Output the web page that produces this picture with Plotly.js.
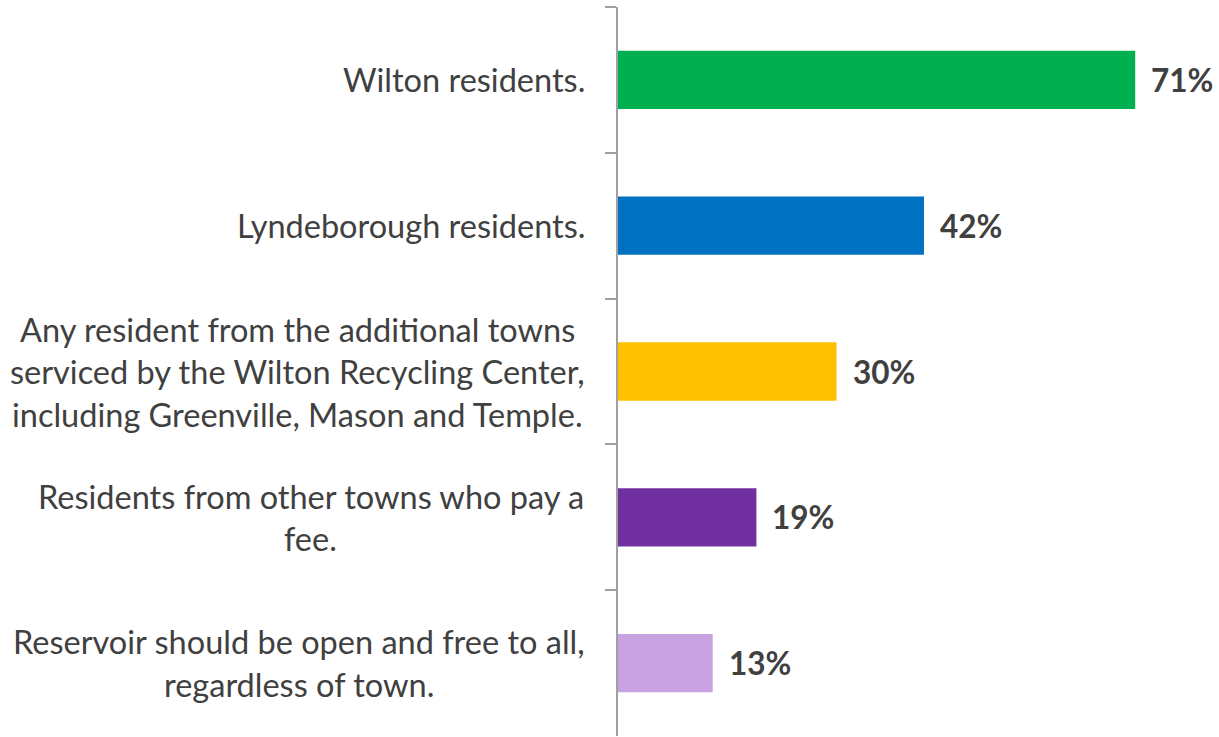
<!DOCTYPE html>
<html>
<head>
<meta charset="utf-8">
<script src="https://cdn.plot.ly/plotly-3.0.1.min.js"></script>
<style>html,body{margin:0;padding:0;background:#fff;}#chart{width:1219px;height:737px;}</style>
</head>
<body>
<div id="chart"></div>
<script>
const categories = [
  "Wilton residents.",
  "Lyndeborough residents.",
  "Any resident from the additional towns<br>serviced by the Wilton Recycling Center,<br>including Greenville, Mason and Temple.",
  "Residents from other towns who pay a<br>fee.",
  "Reservoir should be open and free to all,<br>regardless of town."
];
const values = [71, 42, 30, 19, 13];
const valueLabels = ["71%", "42%", "30%", "19%", "13%"];
const barColors = ["#00B050", "#0070C0", "#FFC000", "#7030A0", "#C9A3E1"];

const FONT = "Lato, 'Open Sans', sans-serif";
const TEXT_COLOR = "#404040";
const LABEL_SIZE = 32.5;
const VALUE_SIZE = 31.5;
const LINE_SPACING = 42.5;
const RIGHT_GAP = 33;

function build() {
  const canvas = document.createElement("canvas");
  const ctx = canvas.getContext("2d");
  ctx.font = LABEL_SIZE + "px Lato";

  const trace = {
    type: "bar",
    orientation: "h",
    x: values,
    y: categories,
    marker: {color: barColors},
    hoverinfo: "none"
  };

  const annotations = [];
  values.forEach((v, i) => {
    annotations.push({
      x: v, y: categories[i], xref: "x", yref: "y",
      text: "<b>" + valueLabels[i] + "</b>",
      showarrow: false, xanchor: "left", xshift: 14,
      font: {family: FONT, size: VALUE_SIZE, color: TEXT_COLOR}
    });
  });

  categories.forEach((cat) => {
    const lines = cat.split("<br>");
    const n = lines.length;
    const blockW = Math.max(...lines.map(l => ctx.measureText(l).width));
    lines.forEach((ln, j) => {
      annotations.push({
        xref: "paper", yref: "y", x: 0, y: cat,
        text: ln, showarrow: false,
        xanchor: "center",
        xshift: -RIGHT_GAP - blockW / 2,
        yshift: -(j - (n - 1) / 2) * LINE_SPACING,
        font: {family: FONT, size: LABEL_SIZE, color: TEXT_COLOR}
      });
    });
  });

  const layout = {
    width: 1219, height: 737,
    margin: {l: 618, r: 0, t: 7, b: 1},
    paper_bgcolor: "#fff", plot_bgcolor: "#fff",
    showlegend: false,
    bargap: 0.6,
    font: {family: FONT, color: TEXT_COLOR},
    xaxis: {range: [0, 82.5], visible: false, fixedrange: true},
    yaxis: {
      type: "category",
      autorange: "reversed",
      showline: true, linecolor: "#A0A0A0", linewidth: 2,
      ticks: "outside", tickson: "boundaries", ticklen: 11, tickcolor: "#A0A0A0", tickwidth: 2,
      showticklabels: false,
      showgrid: false, zeroline: false
    },
    annotations: annotations
  };

  Plotly.newPlot("chart", [trace], layout, {displayModeBar: false, staticPlot: true});
}

document.fonts.load(LABEL_SIZE + "px Lato").then(build, build);
</script>
</body>
</html>
